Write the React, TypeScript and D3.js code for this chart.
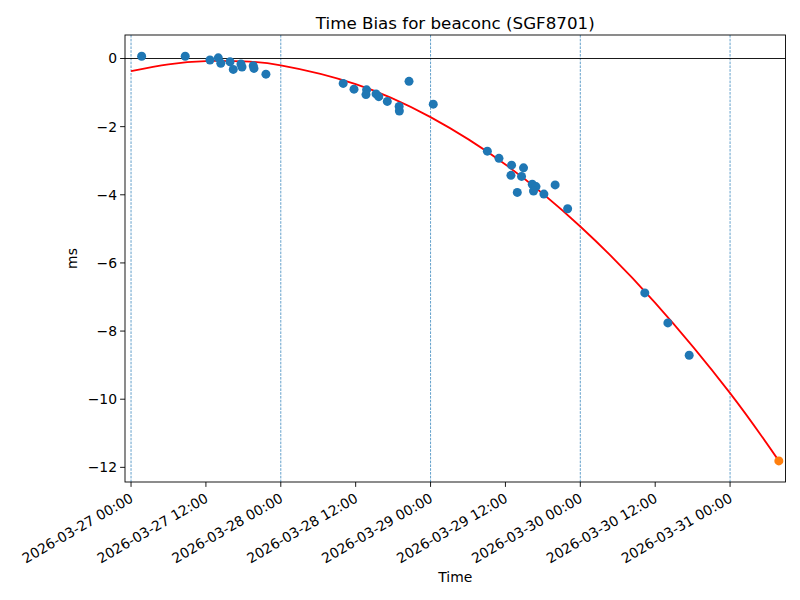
import React from "react";
import * as d3 from "d3";

const obsTimes: string[] = [
  "2026-03-27 01:42", "2026-03-27 08:41", "2026-03-27 12:39", "2026-03-27 13:59",
  "2026-03-27 14:23", "2026-03-27 15:52", "2026-03-27 16:23", "2026-03-27 17:37",
  "2026-03-27 17:47", "2026-03-27 19:35", "2026-03-27 19:42", "2026-03-27 21:37",
  "2026-03-28 10:00", "2026-03-28 11:44", "2026-03-28 13:45", "2026-03-28 13:39",
  "2026-03-28 15:16", "2026-03-28 15:42", "2026-03-28 17:04", "2026-03-28 18:58",
  "2026-03-28 19:00", "2026-03-28 20:33", "2026-03-29 00:26",
  "2026-03-29 09:06", "2026-03-29 10:58", "2026-03-29 12:59", "2026-03-29 14:54",
  "2026-03-29 12:53", "2026-03-29 14:35", "2026-03-29 13:54", "2026-03-29 16:18",
  "2026-03-29 16:54", "2026-03-29 16:30", "2026-03-29 18:10", "2026-03-29 19:58",
  "2026-03-29 21:58",
  "2026-03-30 10:20", "2026-03-30 14:02", "2026-03-30 17:27",
];
const obsValues: number[] = [
  0.065, 0.065, -0.044, 0.02,
  -0.14, -0.094, -0.32, -0.16,
  -0.25, -0.21, -0.29, -0.46,
  -0.73, -0.9, -0.92, -1.06,
  -1.04, -1.12, -1.26, -1.41,
  -1.54, -0.67, -1.34,
  -2.72, -2.93, -3.13, -3.21,
  -3.43, -3.46, -3.93, -3.69,
  -3.76, -3.89, -3.98, -3.71,
  -4.41,
  -6.88, -7.76, -8.71,
];

const fitTimes: string[] = [
  "2026-03-27 00:00", "2026-03-27 06:00", "2026-03-27 12:00", "2026-03-27 18:00",
  "2026-03-28 00:00", "2026-03-28 12:00", "2026-03-29 00:00", "2026-03-29 12:00",
  "2026-03-30 00:00", "2026-03-30 12:00", "2026-03-31 00:00", "2026-03-31 07:49",
];
const fitValues: number[] = [
  -0.37, -0.17, -0.075, -0.086, -0.2, -0.75, -1.72, -3.11, -4.93, -7.17, -9.82, -11.81,
];

const predTime = "2026-03-31 07:49";
const predValue = -11.81;

const dayLines: string[] = [
  "2026-03-27 00:00", "2026-03-28 00:00", "2026-03-29 00:00", "2026-03-30 00:00", "2026-03-31 00:00",
];
const xTickLabels: string[] = [
  "2026-03-27 00:00", "2026-03-27 12:00", "2026-03-28 00:00", "2026-03-28 12:00",
  "2026-03-29 00:00", "2026-03-29 12:00", "2026-03-30 00:00", "2026-03-30 12:00",
  "2026-03-31 00:00",
];
const yTicks: number[] = [0, -2, -4, -6, -8, -10, -12];
const xLimits: string[] = ["2026-03-26 23:02", "2026-03-31 08:53"];
const yLimits: number[] = [-12.43, 0.69];

const W = 800;
const H = 600;
const L = 125;
const R = 785.5;
const T = 35;
const B = 482;
const FONT = "DejaVu Sans, sans-serif";

const parse = d3.utcParse("%Y-%m-%d %H:%M");

export default function App() {
  const x = d3.scaleUtc()
    .domain([parse(xLimits[0])!, parse(xLimits[1])!])
    .range([L, R]);
  const y = d3.scaleLinear().domain(yLimits).range([B, T]);

  const fitPts: [number, number][] = fitTimes.map((t, i) => [x(parse(t)!), y(fitValues[i])]);
  const line = d3.line().curve(d3.curveNatural)(fitPts) || "";

  const fmt = (v: number) => (v < 0 ? "\u2212" + Math.abs(v) : String(v));

  return (
    <svg width={W} height={H} style={{ position: "absolute", left: 0, top: 0, background: "#fff" }}
      fontFamily={FONT}>
      <rect x={0} y={0} width={W} height={H} fill="#fff" />
      <defs>
        <clipPath id="plotclip">
          <rect x={L} y={T} width={R - L} height={B - T} />
        </clipPath>
      </defs>
      <g clipPath="url(#plotclip)">
        {dayLines.map((t) => (
          <line key={t} x1={x(parse(t)!)} x2={x(parse(t)!)} y1={T} y2={B}
            stroke="#1f77b4" strokeWidth={0.7} strokeDasharray="2.6 1.2" />
        ))}
        <line x1={L} x2={R} y1={y(0)} y2={y(0)} stroke="#000" strokeWidth={0.9} />
        <path d={line} fill="none" stroke="#ff0000" strokeWidth={1.8} />
        {obsTimes.map((t, i) => (
          <circle key={i} cx={x(parse(t)!)} cy={y(obsValues[i])} r={4.5} fill="#1f77b4" />
        ))}
        <circle cx={x(parse(predTime)!)} cy={y(predValue)} r={4.5} fill="#ff7f0e" />
      </g>
      <rect x={L} y={T} width={R - L} height={B - T} fill="none" stroke="#000" strokeWidth={0.9} />
      {yTicks.map((v) => (
        <g key={v} transform={`translate(${L},${y(v)})`}>
          <line x1={0} x2={-4.9} stroke="#000" strokeWidth={0.9} />
          <text x={-8} dy="0.35em" textAnchor="end" fontSize={13.9} fill="#000">{fmt(v)}</text>
        </g>
      ))}
      {xTickLabels.map((t) => {
        const px = x(parse(t)!);
        return (
          <g key={t}>
            <line x1={px} x2={px} y1={B} y2={B + 4.9} stroke="#000" strokeWidth={0.9} />
            <text transform={`translate(${px - 2},${B + 10}) rotate(-30)`} textAnchor="end"
              dy="0.75em" fontSize={13.9} fill="#000">{t}</text>
          </g>
        );
      })}
      <text x={(L + R) / 2} y={582} textAnchor="middle" fontSize={13.9} fill="#000">Time</text>
      <text transform={`translate(77,${(T + B) / 2}) rotate(-90)`} textAnchor="middle"
        fontSize={13.9} fill="#000">ms</text>
      <text x={(L + R) / 2} y={28.5} textAnchor="middle" fontSize={16.7} fill="#000">
        Time Bias for beaconc (SGF8701)
      </text>
    </svg>
  );
}
